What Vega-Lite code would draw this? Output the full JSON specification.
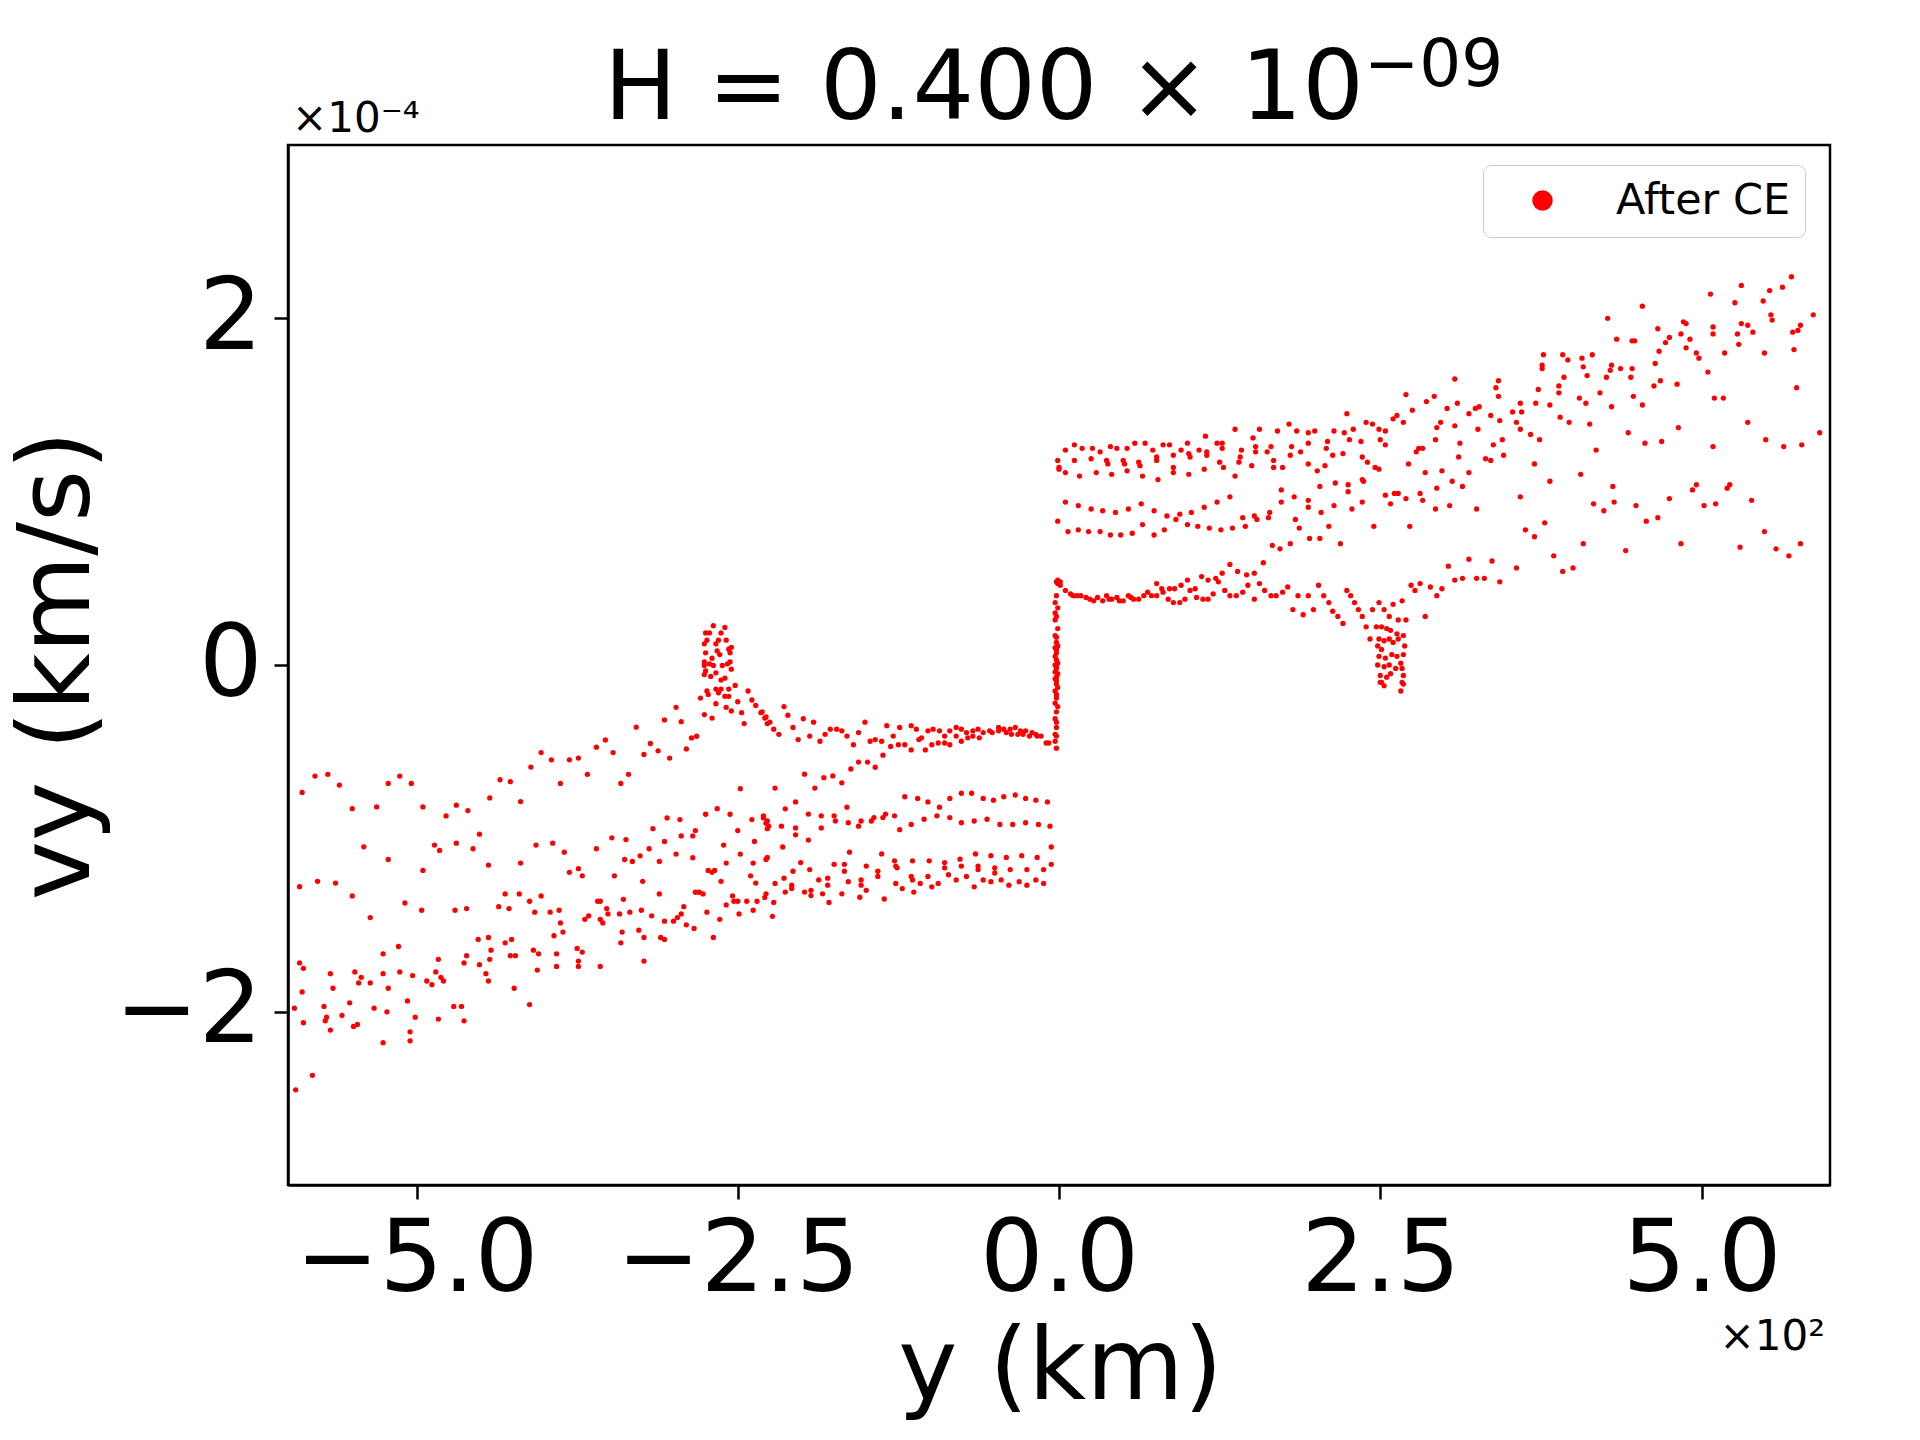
{
  "$schema": "https://vega.github.io/schema/vega-lite/v6.json",
  "autosize": {"type": "none"},
  "padding": {"left": 288, "top": 145, "right": 90, "bottom": 255},
  "width": 1542,
  "height": 1040,
  "background": "white",
  "config": {
    "view": {"stroke": "black", "strokeWidth": 2.5},
    "axis": {"domainColor": "black", "domainWidth": 2.5, "tickColor": "black", "tickWidth": 2.5, "tickSize": 14, "labelFont": "DejaVu Sans", "labelFontSize": 100, "labelColor": "black", "labelLimit": 0, "titleFont": "DejaVu Sans", "titleFontSize": 100, "titleColor": "black", "titleFontWeight": "normal", "titleLimit": 0, "grid": false, "labelOverlap": false, "labelFlush": false}
  },
  "datasets": {
    "pts": [
      {"y":-5.89,"vy":-0.735},{"y":-5.79,"vy":-0.641},{"y":-5.69,"vy":-0.631},{"y":-5.60,"vy":-0.693},{"y":-5.50,"vy":-0.829},{"y":-5.31,"vy":-0.819},{"y":-5.22,"vy":-0.683},{"y":-5.13,"vy":-0.641},{"y":-5.04,"vy":-0.683},{"y":-4.95,"vy":-0.819},{"y":-4.77,"vy":-0.871},{"y":-4.69,"vy":-0.809},{"y":-4.60,"vy":-0.840},{"y":-4.43,"vy":-0.767},{"y":-4.35,"vy":-0.662},{"y":-4.27,"vy":-0.673},{"y":-4.19,"vy":-0.788},{"y":-4.11,"vy":-0.589},{"y":-4.03,"vy":-0.505},{"y":-3.95,"vy":-0.547},{"y":-3.88,"vy":-0.683},{"y":-3.81,"vy":-0.547},{"y":-3.74,"vy":-0.537},{"y":-3.67,"vy":-0.631},{"y":-3.60,"vy":-0.474},{"y":-3.53,"vy":-0.432},{"y":-3.47,"vy":-0.505},{"y":-3.41,"vy":-0.683},{"y":-3.35,"vy":-0.631},{"y":-3.29,"vy":-0.359},{"y":-3.23,"vy":-0.516},{"y":-3.18,"vy":-0.453},{"y":-3.12,"vy":-0.495},{"y":-3.07,"vy":-0.317},{"y":-3.03,"vy":-0.537},{"y":-2.98,"vy":-0.244},{"y":-2.94,"vy":-0.327},{"y":-2.90,"vy":-0.484},{"y":-2.86,"vy":-0.421},{"y":-2.82,"vy":-0.411},{"y":-2.79,"vy":-0.191},{"y":-2.76,"vy":-0.286},{"y":-2.70,"vy":-0.306},{"y":-2.67,"vy":-0.223},{"y":-2.59,"vy":-0.244},{"y":-2.55,"vy":-0.265},{"y":-2.50,"vy":-0.212},{"y":-2.47,"vy":-0.275},{"y":-2.45,"vy":-0.338},{"y":-2.42,"vy":-0.150},{"y":-2.39,"vy":-0.202},{"y":-2.36,"vy":-0.233},{"y":-2.32,"vy":-0.275},{"y":-2.29,"vy":-0.306},{"y":-2.27,"vy":-0.338},
      {"y":-2.69,"vy":0.227},{"y":-2.60,"vy":0.217},{"y":-2.75,"vy":0.185},{"y":-2.72,"vy":0.185},{"y":-2.63,"vy":0.185},{"y":-2.67,"vy":0.122},{"y":-2.59,"vy":0.143},{"y":-2.76,"vy":0.122},{"y":-2.55,"vy":0.102},{"y":-2.66,"vy":0.081},{"y":-2.75,"vy":0.070},{"y":-2.64,"vy":0.060},{"y":-2.56,"vy":0.070},{"y":-2.70,"vy":0.039},{"y":-2.76,"vy":0.018},{"y":-2.56,"vy":0.018},{"y":-2.62,"vy":-0.003},{"y":-2.76,"vy":-0.003},{"y":-2.69,"vy":-0.003},{"y":-2.55,"vy":-0.024},{"y":-2.75,"vy":-0.034},{"y":-2.71,"vy":-0.066},{"y":-2.60,"vy":-0.076},{"y":-2.63,"vy":-0.087},{"y":-2.74,"vy":-0.150},{"y":-2.67,"vy":-0.139},{"y":-2.63,"vy":-0.139},{"y":-2.57,"vy":-0.139},{"y":-2.52,"vy":-0.118},{"y":-2.73,"vy":-0.170},{"y":-2.65,"vy":-0.160},{"y":-2.60,"vy":-0.181},{"y":-2.57,"vy":-0.181},{"y":-2.76,"vy":-0.055},{"y":-2.58,"vy":0.007},{"y":-2.67,"vy":-0.045},{"y":-2.72,"vy":0.007},{"y":-2.57,"vy":0.091},{"y":-2.65,"vy":0.143},{"y":-2.74,"vy":0.143},
      {"y":-5.41,"vy":-1.049},{"y":-5.22,"vy":-1.122},{"y":-4.95,"vy":-1.185},{"y":-4.86,"vy":-1.039},{"y":-4.82,"vy":-1.070},{"y":-4.69,"vy":-1.028},{"y":-4.56,"vy":-1.060},{"y":-4.51,"vy":-0.976},{"y":-4.44,"vy":-1.154},{"y":-4.19,"vy":-1.143},{"y":-4.07,"vy":-1.039},{"y":-3.94,"vy":-1.028},{"y":-3.85,"vy":-1.080},{"y":-3.81,"vy":-1.196},{"y":-3.74,"vy":-1.175},{"y":-3.71,"vy":-1.216},{"y":-3.60,"vy":-1.060},{"y":-3.48,"vy":-0.997},{"y":-3.46,"vy":-1.216},{"y":-3.38,"vy":-1.122},{"y":-3.37,"vy":-1.007},{"y":-3.32,"vy":-1.133},{"y":-3.26,"vy":-1.101},{"y":-3.19,"vy":-1.060},{"y":-3.16,"vy":-0.944},{"y":-3.11,"vy":-1.133},{"y":-3.07,"vy":-1.018},{"y":-3.05,"vy":-0.882},{"y":-2.98,"vy":-1.091},{"y":-2.95,"vy":-0.892},{"y":-2.94,"vy":-0.986},{"y":-2.85,"vy":-1.112},{"y":-2.85,"vy":-0.986},{"y":-2.83,"vy":-0.955},{"y":-2.75,"vy":-0.861},{"y":-2.73,"vy":-1.185},{"y":-2.70,"vy":-1.196},{"y":-2.68,"vy":-1.185},{"y":-2.66,"vy":-0.829},{"y":-2.63,"vy":-1.248},{"y":-2.61,"vy":-1.039},{"y":-2.59,"vy":-1.143},{"y":-2.56,"vy":-0.861},{"y":-2.50,"vy":-0.955},{"y":-2.48,"vy":-1.091},{"y":-2.48,"vy":-0.714},{"y":-2.40,"vy":-1.216},{"y":-2.39,"vy":-0.892},{"y":-2.38,"vy":-1.143},{"y":-2.37,"vy":-1.018},{"y":-2.36,"vy":-1.258},{"y":-2.30,"vy":-0.882},{"y":-2.28,"vy":-0.913},{"y":-2.27,"vy":-0.944},{"y":-2.28,"vy":-1.122},
      {"y":-5.91,"vy":-1.279},{"y":-5.77,"vy":-1.248},{"y":-5.63,"vy":-1.258},{"y":-5.50,"vy":-1.332},{"y":-5.36,"vy":-1.457},{"y":-5.09,"vy":-1.373},{"y":-4.96,"vy":-1.415},{"y":-4.70,"vy":-1.415},{"y":-4.61,"vy":-1.405},{"y":-4.36,"vy":-1.394},{"y":-4.31,"vy":-1.321},{"y":-4.28,"vy":-1.405},{"y":-4.20,"vy":-1.321},{"y":-4.12,"vy":-1.363},{"y":-4.08,"vy":-1.426},{"y":-4.03,"vy":-1.332},{"y":-3.96,"vy":-1.426},{"y":-3.89,"vy":-1.415},{"y":-3.88,"vy":-1.488},{"y":-3.86,"vy":-1.541},{"y":-3.93,"vy":-1.562},{"y":-3.69,"vy":-1.467},{"y":-3.66,"vy":-1.447},{"y":-3.59,"vy":-1.363},{"y":-3.57,"vy":-1.363},{"y":-3.57,"vy":-1.467},{"y":-3.55,"vy":-1.488},{"y":-3.52,"vy":-1.405},{"y":-3.51,"vy":-1.436},{"y":-3.42,"vy":-1.436},{"y":-3.39,"vy":-1.352},{"y":-3.34,"vy":-1.426},{"y":-3.40,"vy":-1.541},{"y":-3.41,"vy":-1.603},{"y":-3.27,"vy":-1.530},{"y":-3.25,"vy":-1.415},{"y":-3.23,"vy":-1.572},{"y":-3.24,"vy":-1.248},{"y":-3.17,"vy":-1.447},{"y":-3.11,"vy":-1.321},{"y":-3.10,"vy":-1.572},{"y":-3.07,"vy":-1.583},{"y":-3.07,"vy":-1.478},{"y":-3.00,"vy":-1.478},{"y":-2.97,"vy":-1.457},{"y":-2.94,"vy":-1.436},{"y":-2.92,"vy":-1.394},{"y":-2.90,"vy":-1.499},{"y":-2.84,"vy":-1.520},{"y":-2.83,"vy":-1.311},{"y":-2.80,"vy":-1.311},{"y":-2.77,"vy":-1.321},{"y":-2.74,"vy":-1.426},{"y":-2.69,"vy":-1.572},{"y":-2.64,"vy":-1.467},{"y":-2.59,"vy":-1.384},{"y":-2.54,"vy":-1.332},{"y":-2.53,"vy":-1.363},{"y":-2.50,"vy":-1.363},{"y":-2.49,"vy":-1.436},{"y":-2.43,"vy":-1.363},{"y":-2.38,"vy":-1.415},{"y":-2.35,"vy":-1.363},{"y":-2.29,"vy":-1.342},
      {"y":-5.91,"vy":-1.719},{"y":-5.88,"vy":-1.750},{"y":-5.89,"vy":-1.886},{"y":-5.95,"vy":-1.980},{"y":-5.88,"vy":-2.064},{"y":-5.72,"vy":-1.970},{"y":-5.70,"vy":-2.032},{"y":-5.71,"vy":-2.053},{"y":-5.67,"vy":-2.106},{"y":-5.67,"vy":-1.781},{"y":-5.65,"vy":-1.865},{"y":-5.58,"vy":-2.022},{"y":-5.52,"vy":-1.949},{"y":-5.49,"vy":-2.085},{"y":-5.46,"vy":-2.074},{"y":-5.48,"vy":-1.771},{"y":-5.43,"vy":-1.802},{"y":-5.45,"vy":-1.834},{"y":-5.36,"vy":-1.834},{"y":-5.33,"vy":-1.980},{"y":-5.26,"vy":-1.666},{"y":-5.26,"vy":-1.781},{"y":-5.23,"vy":-2.001},{"y":-5.22,"vy":-1.865},{"y":-5.26,"vy":-2.179},{"y":-5.14,"vy":-1.624},{"y":-5.13,"vy":-1.771},{"y":-5.07,"vy":-1.938},{"y":-5.05,"vy":-2.116},{"y":-5.05,"vy":-2.168},{"y":-5.03,"vy":-1.792},{"y":-5.01,"vy":-2.032},{"y":-4.92,"vy":-1.823},{"y":-4.88,"vy":-1.844},{"y":-4.85,"vy":-1.771},{"y":-4.83,"vy":-1.698},{"y":-4.81,"vy":-1.802},{"y":-4.79,"vy":-1.823},{"y":-4.83,"vy":-2.043},{"y":-4.71,"vy":-1.970},{"y":-4.65,"vy":-1.970},{"y":-4.63,"vy":-2.053},{"y":-4.63,"vy":-1.719},{"y":-4.61,"vy":-1.677},{"y":-4.52,"vy":-1.583},{"y":-4.51,"vy":-1.729},{"y":-4.44,"vy":-1.572},{"y":-4.42,"vy":-1.645},{"y":-4.43,"vy":-1.698},{"y":-4.46,"vy":-1.781},{"y":-4.44,"vy":-1.823},{"y":-4.31,"vy":-1.603},{"y":-4.26,"vy":-1.583},{"y":-4.27,"vy":-1.677},{"y":-4.23,"vy":-1.677},{"y":-4.24,"vy":-1.865},{"y":-4.12,"vy":-1.959},{"y":-4.09,"vy":-1.645},{"y":-4.05,"vy":-1.666},{"y":-4.06,"vy":-1.760},{"y":-3.91,"vy":-1.666},{"y":-3.91,"vy":-1.739},{"y":-3.75,"vy":-1.635},{"y":-3.71,"vy":-1.656},{"y":-3.74,"vy":-1.708},{"y":-3.74,"vy":-1.739},{"y":-3.57,"vy":-1.739},{"y":-3.23,"vy":-1.708},{"y":-5.81,"vy":-2.367},{"y":-5.94,"vy":-2.451},
      {"y":-2.31,"vy":-0.27},{"y":-2.28,"vy":-0.30},{"y":-2.25,"vy":-0.33},{"y":-2.22,"vy":-0.37},{"y":-2.18,"vy":-0.40},{"y":-2.14,"vy":-0.24},{"y":-2.11,"vy":-0.29},{"y":-2.07,"vy":-0.36},{"y":-2.03,"vy":-0.43},{"y":-1.99,"vy":-0.31},{"y":-1.94,"vy":-0.41},{"y":-1.91,"vy":-0.33},{"y":-1.86,"vy":-0.44},{"y":-1.82,"vy":-0.40},{"y":-1.78,"vy":-0.37},{"y":-1.73,"vy":-0.37},{"y":-1.69,"vy":-0.38},{"y":-1.65,"vy":-0.41},{"y":-1.60,"vy":-0.46},{"y":-1.56,"vy":-0.39},{"y":-1.51,"vy":-0.33},{"y":-1.47,"vy":-0.44},{"y":-1.43,"vy":-0.43},{"y":-1.38,"vy":-0.44},{"y":-1.37,"vy":-0.52},{"y":-1.34,"vy":-0.35},{"y":-1.31,"vy":-0.47},{"y":-1.29,"vy":-0.41},{"y":-1.25,"vy":-0.46},{"y":-1.24,"vy":-0.36},{"y":-1.20,"vy":-0.46},{"y":-1.15,"vy":-0.35},{"y":-1.15,"vy":-0.49},{"y":-1.11,"vy":-0.37},{"y":-1.09,"vy":-0.43},{"y":-1.07,"vy":-0.42},{"y":-1.04,"vy":-0.49},{"y":-1.02,"vy":-0.38},{"y":-0.99,"vy":-0.46},{"y":-0.98,"vy":-0.37},{"y":-0.93,"vy":-0.38},{"y":-0.94,"vy":-0.45},{"y":-0.89,"vy":-0.45},{"y":-0.89,"vy":-0.41},{"y":-0.85,"vy":-0.46},{"y":-0.85,"vy":-0.38},{"y":-0.80,"vy":-0.36},{"y":-0.80,"vy":-0.41},{"y":-0.76,"vy":-0.44},{"y":-0.76,"vy":-0.37},{"y":-0.72,"vy":-0.39},{"y":-0.71,"vy":-0.42},{"y":-0.67,"vy":-0.38},{"y":-0.67,"vy":-0.41},{"y":-0.63,"vy":-0.37},{"y":-0.62,"vy":-0.42},{"y":-0.59,"vy":-0.39},{"y":-0.54,"vy":-0.38},{"y":-0.52,"vy":-0.39},{"y":-0.47,"vy":-0.36},{"y":-0.47,"vy":-0.38},{"y":-0.43,"vy":-0.37},{"y":-0.41,"vy":-0.39},{"y":-0.38,"vy":-0.37},{"y":-0.37,"vy":-0.40},{"y":-0.34,"vy":-0.36},{"y":-0.32,"vy":-0.40},{"y":-0.30,"vy":-0.38},{"y":-0.28,"vy":-0.40},{"y":-0.26,"vy":-0.38},{"y":-0.23,"vy":-0.41},{"y":-0.21,"vy":-0.39},{"y":-0.18,"vy":-0.40},{"y":-0.17,"vy":-0.41},{"y":-0.14,"vy":-0.41},{"y":-0.10,"vy":-0.45},{"y":-0.08,"vy":-0.45},
      {"y":-2.21,"vy":-0.71},{"y":-1.98,"vy":-0.63},{"y":-1.90,"vy":-0.71},{"y":-1.83,"vy":-0.65},{"y":-1.76,"vy":-0.64},{"y":-1.69,"vy":-0.68},{"y":-1.62,"vy":-0.60},{"y":-1.56,"vy":-0.56},{"y":-1.49,"vy":-0.56},{"y":-1.43,"vy":-0.59},
      {"y":-2.13,"vy":-0.83},{"y":-2.05,"vy":-0.79},{"y":-2.30,"vy":-0.87},{"y":-2.27,"vy":-0.90},{"y":-2.26,"vy":-0.93},{"y":-2.16,"vy":-0.93},{"y":-2.05,"vy":-0.94},{"y":-2.05,"vy":-0.98},{"y":-1.95,"vy":-0.86},{"y":-1.95,"vy":-1.01},{"y":-1.85,"vy":-0.87},{"y":-1.85,"vy":-0.94},{"y":-1.75,"vy":-0.87},{"y":-1.74,"vy":-0.90},{"y":-1.65,"vy":-0.82},{"y":-1.64,"vy":-0.91},{"y":-1.56,"vy":-0.93},{"y":-1.54,"vy":-0.90},{"y":-1.46,"vy":-0.90},{"y":-1.44,"vy":-0.88},{"y":-1.37,"vy":-0.88},{"y":-1.35,"vy":-0.86},{"y":-1.28,"vy":-0.87},{"y":-1.24,"vy":-0.95},{"y":-1.20,"vy":-0.76},{"y":-1.15,"vy":-0.92},{"y":-1.10,"vy":-0.77},{"y":-1.05,"vy":-0.89},{"y":-1.02,"vy":-0.79},{"y":-0.95,"vy":-0.87},{"y":-0.93,"vy":-0.82},{"y":-0.85,"vy":-0.88},{"y":-0.85,"vy":-0.77},{"y":-0.76,"vy":-0.74},{"y":-0.76,"vy":-0.91},{"y":-0.68,"vy":-0.74},{"y":-0.66,"vy":-0.90},{"y":-0.59,"vy":-0.77},{"y":-0.56,"vy":-0.89},{"y":-0.51,"vy":-0.78},{"y":-0.46,"vy":-0.92},{"y":-0.43,"vy":-0.76},{"y":-0.36,"vy":-0.92},{"y":-0.34,"vy":-0.75},{"y":-0.26,"vy":-0.77},{"y":-0.26,"vy":-0.91},{"y":-0.18,"vy":-0.78},{"y":-0.16,"vy":-0.92},{"y":-0.09,"vy":-0.79},{"y":-0.07,"vy":-0.93},{"y":-0.06,"vy":-1.05},
      {"y":-2.15,"vy":-1.05},{"y":-2.27,"vy":-1.11},{"y":-2.01,"vy":-1.14},{"y":-1.94,"vy":-1.18},{"y":-2.07,"vy":-1.19},{"y":-2.14,"vy":-1.23},{"y":-2.21,"vy":-1.26},{"y":-2.08,"vy":-1.27},{"y":-2.08,"vy":-1.29},{"y":-2.28,"vy":-1.32},{"y":-2.13,"vy":-1.31},{"y":-2.22,"vy":-1.37},{"y":-2.23,"vy":-1.45},{"y":-1.98,"vy":-1.31},{"y":-1.93,"vy":-1.30},{"y":-1.93,"vy":-1.33},{"y":-1.84,"vy":-1.32},{"y":-1.87,"vy":-1.24},{"y":-1.80,"vy":-1.23},{"y":-1.80,"vy":-1.27},{"y":-1.79,"vy":-1.37},{"y":-1.75,"vy":-1.15},{"y":-1.69,"vy":-1.32},{"y":-1.67,"vy":-1.15},{"y":-1.67,"vy":-1.19},{"y":-1.64,"vy":-1.25},{"y":-1.63,"vy":-1.08},{"y":-1.55,"vy":-1.34},{"y":-1.54,"vy":-1.24},{"y":-1.54,"vy":-1.27},{"y":-1.50,"vy":-1.30},{"y":-1.50,"vy":-1.16},{"y":-1.41,"vy":-1.22},{"y":-1.41,"vy":-1.19},{"y":-1.38,"vy":-1.09},{"y":-1.36,"vy":-1.35},{"y":-1.28,"vy":-1.13},{"y":-1.27,"vy":-1.16},{"y":-1.26,"vy":-1.17},{"y":-1.27,"vy":-1.26},{"y":-1.22,"vy":-1.29},{"y":-1.15,"vy":-1.22},{"y":-1.14,"vy":-1.24},{"y":-1.14,"vy":-1.13},{"y":-1.13,"vy":-1.31},{"y":-1.08,"vy":-1.26},{"y":-1.02,"vy":-1.22},{"y":-1.01,"vy":-1.13},{"y":-0.99,"vy":-1.28},{"y":-0.94,"vy":-1.26},{"y":-0.89,"vy":-1.14},{"y":-0.89,"vy":-1.17},{"y":-0.86,"vy":-1.21},{"y":-0.80,"vy":-1.24},{"y":-0.77,"vy":-1.12},{"y":-0.76,"vy":-1.16},{"y":-0.72,"vy":-1.22},{"y":-0.66,"vy":-1.28},{"y":-0.65,"vy":-1.09},{"y":-0.63,"vy":-1.16},{"y":-0.63,"vy":-1.18},{"y":-0.59,"vy":-1.24},{"y":-0.53,"vy":-1.10},{"y":-0.53,"vy":-1.25},{"y":-0.50,"vy":-1.17},{"y":-0.50,"vy":-1.20},{"y":-0.45,"vy":-1.24},{"y":-0.41,"vy":-1.11},{"y":-0.39,"vy":-1.27},{"y":-0.38,"vy":-1.18},{"y":-0.31,"vy":-1.25},{"y":-0.29,"vy":-1.10},{"y":-0.25,"vy":-1.18},{"y":-0.25,"vy":-1.27},{"y":-0.18,"vy":-1.24},{"y":-0.17,"vy":-1.11},{"y":-0.12,"vy":-1.18},{"y":-0.12,"vy":-1.26},{"y":-0.06,"vy":-1.15},
      {"y":-0.03,"vy":0.36},{"y":-0.03,"vy":0.30},{"y":-0.03,"vy":0.26},{"y":-0.03,"vy":0.17},{"y":-0.02,"vy":0.16},{"y":-0.03,"vy":0.10},{"y":-0.02,"vy":0.09},{"y":-0.03,"vy":0.05},{"y":-0.02,"vy":0.03},{"y":-0.03,"vy":0.00},{"y":-0.02,"vy":-0.02},{"y":-0.03,"vy":-0.04},{"y":-0.02,"vy":-0.07},{"y":-0.03,"vy":-0.08},{"y":-0.02,"vy":-0.11},{"y":-0.03,"vy":-0.15},{"y":-0.02,"vy":-0.19},{"y":-0.03,"vy":-0.22},{"y":-0.02,"vy":-0.27},{"y":-0.03,"vy":-0.31},{"y":-0.02,"vy":-0.33},{"y":-0.03,"vy":-0.40},{"y":-0.02,"vy":-0.41},{"y":-0.03,"vy":-0.44},{"y":-0.02,"vy":-0.48},
      {"y":-0.02,"vy":0.48},{"y":-0.01,"vy":0.47},{"y":-0.02,"vy":0.40},{"y":-0.01,"vy":0.33},{"y":-0.02,"vy":0.28},{"y":-0.01,"vy":0.21},{"y":-0.02,"vy":0.13},{"y":-0.01,"vy":0.11},{"y":-0.02,"vy":0.07},{"y":-0.01,"vy":0.01},{"y":-0.02,"vy":-0.01},{"y":-0.01,"vy":-0.05},{"y":-0.02,"vy":-0.09},{"y":-0.01,"vy":-0.13},{"y":-0.02,"vy":-0.17},{"y":-0.01,"vy":-0.24},{"y":-0.02,"vy":-0.36},
      {"y":-0.01,"vy":0.49},{"y":0.01,"vy":0.48},{"y":0.01,"vy":0.46},{"y":0.05,"vy":0.43},{"y":0.09,"vy":0.41},{"y":0.11,"vy":0.40},{"y":0.14,"vy":0.40},{"y":0.17,"vy":0.40},{"y":0.21,"vy":0.39},{"y":0.24,"vy":0.38},{"y":0.27,"vy":0.37},{"y":0.30,"vy":0.39},{"y":0.34,"vy":0.37},{"y":0.37,"vy":0.40},{"y":0.39,"vy":0.38},{"y":0.41,"vy":0.38},{"y":0.45,"vy":0.39},{"y":0.47,"vy":0.37},{"y":0.50,"vy":0.37},{"y":0.54,"vy":0.40},{"y":0.56,"vy":0.39},{"y":0.58,"vy":0.38},{"y":0.62,"vy":0.38},{"y":0.66,"vy":0.40},{"y":0.69,"vy":0.42},{"y":0.72,"vy":0.40},{"y":0.76,"vy":0.47},{"y":0.76,"vy":0.40},{"y":0.80,"vy":0.44},{"y":0.81,"vy":0.42},{"y":0.85,"vy":0.38},{"y":0.86,"vy":0.44},{"y":0.89,"vy":0.36},{"y":0.90,"vy":0.44},{"y":0.94,"vy":0.36},{"y":0.95,"vy":0.46},{"y":0.98,"vy":0.38},{"y":1.00,"vy":0.49},{"y":1.02,"vy":0.43},{"y":1.06,"vy":0.44},{"y":1.07,"vy":0.39},{"y":1.11,"vy":0.51},{"y":1.12,"vy":0.38},{"y":1.16,"vy":0.38},{"y":1.16,"vy":0.49},{"y":1.20,"vy":0.41},{"y":1.22,"vy":0.50},{"y":1.24,"vy":0.48},{"y":1.27,"vy":0.53},{"y":1.29,"vy":0.43},{"y":1.33,"vy":0.58},{"y":1.33,"vy":0.40},{"y":1.38,"vy":0.40},{"y":1.39,"vy":0.54},{"y":1.43,"vy":0.42},{"y":1.46,"vy":0.52},{"y":1.47,"vy":0.46},{"y":1.52,"vy":0.38},{"y":1.52,"vy":0.53},{"y":1.56,"vy":0.47},{"y":1.59,"vy":0.59},{"y":1.60,"vy":0.43},{"y":1.65,"vy":0.40},{"y":1.69,"vy":0.40},{"y":1.74,"vy":0.42},{"y":1.78,"vy":0.45},{"y":1.82,"vy":0.32},{"y":1.86,"vy":0.40},{"y":1.90,"vy":0.29},{"y":1.94,"vy":0.40},{"y":1.98,"vy":0.32},{"y":2.02,"vy":0.46},{"y":2.06,"vy":0.40},{"y":2.10,"vy":0.36},{"y":2.13,"vy":0.31},{"y":2.17,"vy":0.28},{"y":2.21,"vy":0.24},{"y":2.24,"vy":0.43},{"y":2.27,"vy":0.40},{"y":2.30,"vy":0.36},{"y":2.33,"vy":0.32},{"y":2.36,"vy":0.28},{"y":2.39,"vy":0.22},{"y":2.42,"vy":0.15},{"y":2.44,"vy":0.32},{"y":2.49,"vy":0.36},{"y":2.53,"vy":0.32},{"y":2.57,"vy":0.28},{"y":2.60,"vy":0.35},{"y":2.64,"vy":0.26},{"y":2.67,"vy":0.37},{"y":2.70,"vy":0.26},{"y":2.74,"vy":0.46},{"y":2.77,"vy":0.43},{"y":2.81,"vy":0.47},{"y":2.85,"vy":0.28},{"y":2.89,"vy":0.45},{"y":2.94,"vy":0.40},{"y":2.98,"vy":0.44},{"y":3.03,"vy":0.57},{"y":3.08,"vy":0.49},{"y":3.14,"vy":0.50},{"y":3.19,"vy":0.61},{"y":3.25,"vy":0.50},{"y":3.31,"vy":0.50},{"y":3.37,"vy":0.60},{"y":3.43,"vy":0.48},
      {"y":2.47,"vy":0.22},{"y":2.51,"vy":0.22},{"y":2.55,"vy":0.21},{"y":2.58,"vy":0.20},{"y":2.63,"vy":0.18},{"y":2.68,"vy":0.17},{"y":2.49,"vy":0.15},{"y":2.53,"vy":0.14},{"y":2.57,"vy":0.15},{"y":2.60,"vy":0.13},{"y":2.64,"vy":0.15},{"y":2.69,"vy":0.11},{"y":2.48,"vy":0.11},{"y":2.51,"vy":0.09},{"y":2.49,"vy":0.05},{"y":2.54,"vy":0.04},{"y":2.59,"vy":0.06},{"y":2.63,"vy":0.05},{"y":2.68,"vy":0.06},{"y":2.66,"vy":0.01},{"y":2.48,"vy":0.00},{"y":2.53,"vy":-0.01},{"y":2.57,"vy":0.00},{"y":2.62,"vy":-0.02},{"y":2.67,"vy":-0.02},{"y":2.68,"vy":-0.06},{"y":2.50,"vy":-0.06},{"y":2.55,"vy":-0.07},{"y":2.58,"vy":-0.05},{"y":2.51,"vy":-0.10},{"y":2.50,"vy":-0.10},{"y":2.53,"vy":-0.12},{"y":2.67,"vy":-0.10},{"y":2.68,"vy":-0.11},{"y":2.66,"vy":-0.15},
      {"y":-0.01,"vy":1.18},{"y":0.00,"vy":1.14},{"y":0.00,"vy":1.13},{"y":0.05,"vy":1.24},{"y":0.05,"vy":1.11},{"y":0.12,"vy":1.27},{"y":0.12,"vy":1.18},{"y":0.16,"vy":1.09},{"y":0.18,"vy":1.25},{"y":0.25,"vy":1.19},{"y":0.26,"vy":1.25},{"y":0.29,"vy":1.11},{"y":0.32,"vy":1.23},{"y":0.37,"vy":1.18},{"y":0.38,"vy":1.16},{"y":0.40,"vy":1.26},{"y":0.41,"vy":1.10},{"y":0.45,"vy":1.25},{"y":0.50,"vy":1.18},{"y":0.51,"vy":1.16},{"y":0.53,"vy":1.12},{"y":0.53,"vy":1.25},{"y":0.59,"vy":1.28},{"y":0.62,"vy":1.17},{"y":0.63,"vy":1.15},{"y":0.65,"vy":1.09},{"y":0.67,"vy":1.28},{"y":0.73,"vy":1.24},{"y":0.76,"vy":1.20},{"y":0.76,"vy":1.18},{"y":0.77,"vy":1.07},{"y":0.81,"vy":1.27},{"y":0.86,"vy":1.27},{"y":0.89,"vy":1.21},{"y":0.89,"vy":1.14},{"y":0.89,"vy":1.11},{"y":0.95,"vy":1.24},{"y":1.00,"vy":1.28},{"y":1.01,"vy":1.10},{"y":1.01,"vy":1.22},{"y":1.02,"vy":1.20},{"y":1.09,"vy":1.24},{"y":1.13,"vy":1.13},{"y":1.14,"vy":1.32},{"y":1.15,"vy":1.23},{"y":1.15,"vy":1.21},{"y":1.23,"vy":1.28},{"y":1.25,"vy":1.17},{"y":1.27,"vy":1.28},{"y":1.27,"vy":1.25},{"y":1.28,"vy":1.14},{"y":1.37,"vy":1.36},{"y":1.37,"vy":1.09},{"y":1.40,"vy":1.17},{"y":1.41,"vy":1.20},{"y":1.42,"vy":1.24},{"y":1.50,"vy":1.15},{"y":1.51,"vy":1.31},{"y":1.53,"vy":1.26},{"y":1.53,"vy":1.23},{"y":1.56,"vy":1.36},{"y":1.62,"vy":1.23},{"y":1.65,"vy":1.26},{"y":1.67,"vy":1.18},{"y":1.67,"vy":1.14},{"y":1.70,"vy":1.35},{"y":1.74,"vy":1.14},{"y":1.79,"vy":1.39},{"y":1.81,"vy":1.26},{"y":1.80,"vy":1.21},{"y":1.85,"vy":1.35},{"y":1.88,"vy":1.23},{"y":1.94,"vy":1.34},{"y":1.94,"vy":1.28},{"y":1.94,"vy":1.16},{"y":1.99,"vy":1.35},{"y":2.01,"vy":1.12},{"y":2.03,"vy":1.03},{"y":2.08,"vy":1.25},{"y":2.09,"vy":1.29},{"y":2.07,"vy":1.15},{"y":2.14,"vy":1.35},{"y":2.13,"vy":1.21},{"y":2.15,"vy":1.05},{"y":2.21,"vy":1.22},{"y":2.22,"vy":1.34},{"y":2.24,"vy":1.45},{"y":2.25,"vy":1.04},{"y":2.25,"vy":1.00},{"y":2.26,"vy":1.30},{"y":2.29,"vy":1.36},{"y":2.35,"vy":1.29},{"y":2.36,"vy":1.20},{"y":2.36,"vy":1.07},{"y":2.37,"vy":1.06},{"y":2.39,"vy":1.40},{"y":2.40,"vy":1.17},{"y":2.44,"vy":1.39},{"y":2.46,"vy":1.14},{"y":2.49,"vy":1.13},{"y":2.49,"vy":1.36},{"y":2.50,"vy":1.30},{"y":2.54,"vy":1.35},{"y":2.54,"vy":1.27},{"y":2.60,"vy":1.42},{"y":2.63,"vy":1.44},{"y":2.68,"vy":1.40},{"y":2.70,"vy":1.56},{"y":2.72,"vy":1.16},{"y":2.75,"vy":1.47},{"y":2.78,"vy":1.23},{"y":2.80,"vy":1.25},{"y":2.83,"vy":1.25},{"y":2.85,"vy":1.11},{"y":2.86,"vy":1.52},{"y":2.92,"vy":1.55},{"y":2.93,"vy":1.30},{"y":2.94,"vy":1.37},{"y":2.97,"vy":1.40},{"y":2.98,"vy":1.12},{"y":3.02,"vy":1.48},{"y":3.08,"vy":1.38},{"y":3.10,"vy":1.51},{"y":3.11,"vy":1.20},{"y":3.12,"vy":1.28},{"y":3.19,"vy":1.45},{"y":3.19,"vy":1.11},{"y":3.24,"vy":1.48},{"y":3.26,"vy":1.36},{"y":3.27,"vy":1.49},{"y":3.32,"vy":1.19},{"y":3.36,"vy":1.18},{"y":3.36,"vy":1.44},{"y":3.38,"vy":1.27},{"y":3.43,"vy":1.41},{"y":3.42,"vy":1.55},{"y":3.40,"vy":1.60},{"y":3.45,"vy":1.30},{"y":3.46,"vy":1.21},{"y":3.08,"vy":1.65},{"y":3.42,"vy":1.64},
      {"y":-0.01,"vy":0.83},{"y":0.05,"vy":0.94},{"y":0.07,"vy":0.77},{"y":0.15,"vy":0.92},{"y":0.15,"vy":0.78},{"y":0.23,"vy":0.77},{"y":0.25,"vy":0.90},{"y":0.32,"vy":0.77},{"y":0.34,"vy":0.89},{"y":0.40,"vy":0.75},{"y":0.44,"vy":0.88},{"y":0.48,"vy":0.75},{"y":0.54,"vy":0.90},{"y":0.57,"vy":0.76},{"y":0.64,"vy":0.93},{"y":0.65,"vy":0.81},{"y":0.74,"vy":0.89},{"y":0.74,"vy":0.75},{"y":0.82,"vy":0.78},{"y":0.84,"vy":0.86},{"y":0.91,"vy":0.84},{"y":0.94,"vy":0.87},{"y":1.00,"vy":0.81},{"y":1.03,"vy":0.88},{"y":1.08,"vy":0.80},{"y":1.13,"vy":0.91},{"y":1.17,"vy":0.79},{"y":1.23,"vy":0.94},{"y":1.26,"vy":0.78},{"y":1.33,"vy":0.97},{"y":1.35,"vy":0.79},{"y":1.43,"vy":0.85},{"y":1.45,"vy":0.80},{"y":1.52,"vy":0.86},{"y":1.54,"vy":0.84},{"y":1.63,"vy":0.85},{"y":1.64,"vy":0.88},{"y":1.66,"vy":0.69},{"y":1.72,"vy":0.67},{"y":1.73,"vy":1.01},{"y":1.73,"vy":0.94},{"y":1.80,"vy":0.70},{"y":1.83,"vy":0.97},{"y":1.84,"vy":0.84},{"y":1.87,"vy":0.79},{"y":1.94,"vy":0.95},{"y":1.94,"vy":0.91},{"y":1.95,"vy":0.73},{"y":2.03,"vy":0.73},{"y":2.04,"vy":0.88},{"y":2.10,"vy":0.80},{"y":2.14,"vy":0.92},{"y":2.19,"vy":0.70},{"y":2.28,"vy":0.90},{"y":2.36,"vy":0.94},{"y":2.45,"vy":0.80},{"y":2.54,"vy":0.98},{"y":2.58,"vy":0.93},{"y":2.61,"vy":0.99},{"y":2.64,"vy":0.99},{"y":2.70,"vy":0.96},{"y":2.73,"vy":0.80},{"y":2.81,"vy":0.99},{"y":2.83,"vy":0.95},{"y":2.94,"vy":1.02},{"y":2.93,"vy":0.90},{"y":3.04,"vy":0.92},{"y":3.06,"vy":1.06},{"y":3.14,"vy":1.03},{"y":3.25,"vy":0.90},
      {"y":3.59,"vy":1.51},{"y":3.60,"vy":1.46},{"y":3.56,"vy":1.40},{"y":3.59,"vy":1.36},{"y":3.53,"vy":1.46},{"y":3.67,"vy":1.33},{"y":3.74,"vy":1.30},{"y":3.70,"vy":1.16},{"y":3.71,"vy":1.51},{"y":3.73,"vy":1.59},{"y":3.76,"vy":1.73},{"y":3.76,"vy":1.71},{"y":3.77,"vy":1.79},{"y":3.82,"vy":1.50},{"y":3.82,"vy":1.06},{"y":3.59,"vy":0.97},{"y":3.63,"vy":0.78},{"y":3.70,"vy":0.74},{"y":3.78,"vy":0.82},{"y":3.56,"vy":0.56},{"y":3.85,"vy":0.63},{"y":3.92,"vy":0.54},{"y":4.00,"vy":0.56},{"y":4.08,"vy":0.70},{"y":3.90,"vy":1.43},{"y":3.97,"vy":1.40},{"y":3.89,"vy":1.61},{"y":3.89,"vy":1.57},{"y":3.93,"vy":1.66},{"y":3.92,"vy":1.79},{"y":3.96,"vy":1.76},{"y":4.05,"vy":1.54},{"y":4.06,"vy":1.10},{"y":4.07,"vy":1.77},{"y":4.08,"vy":1.72},{"y":4.10,"vy":1.51},{"y":4.11,"vy":1.67},{"y":4.13,"vy":1.39},{"y":4.15,"vy":1.79},{"y":4.18,"vy":1.24},{"y":4.21,"vy":1.57},{"y":4.16,"vy":0.93},{"y":4.24,"vy":0.89},{"y":4.27,"vy":2.00},{"y":4.26,"vy":1.66},{"y":4.29,"vy":1.70},{"y":4.30,"vy":1.73},{"y":4.30,"vy":1.49},{"y":4.31,"vy":1.03},{"y":4.32,"vy":0.94},{"y":4.34,"vy":1.88},{"y":4.37,"vy":1.71},{"y":4.41,"vy":0.66},{"y":4.43,"vy":1.34},{"y":4.45,"vy":1.66},{"y":4.46,"vy":1.71},{"y":4.46,"vy":1.87},{"y":4.48,"vy":1.87},{"y":4.47,"vy":1.55},{"y":4.49,"vy":0.92},{"y":4.54,"vy":2.07},{"y":4.54,"vy":1.50},{"y":4.56,"vy":1.28},{"y":4.57,"vy":0.83},{"y":4.63,"vy":1.61},{"y":4.64,"vy":1.74},{"y":4.66,"vy":0.85},{"y":4.66,"vy":1.94},{"y":4.67,"vy":1.81},{"y":4.68,"vy":1.64},{"y":4.69,"vy":1.29},{"y":4.72,"vy":1.86},{"y":4.75,"vy":1.89},{"y":4.75,"vy":0.96},{"y":4.81,"vy":1.62},{"y":4.82,"vy":1.37},{"y":4.84,"vy":0.70},{"y":4.84,"vy":1.91},{"y":4.86,"vy":1.98},{"y":4.88,"vy":1.83},{"y":4.88,"vy":1.97},{"y":4.91,"vy":1.88},{"y":4.93,"vy":1.01},{"y":4.96,"vy":1.04},{"y":4.96,"vy":1.80},{"y":4.98,"vy":1.77},{"y":5.02,"vy":0.92},{"y":5.05,"vy":1.69},{"y":5.07,"vy":2.14},{"y":5.09,"vy":1.95},{"y":5.09,"vy":1.91},{"y":5.09,"vy":1.26},{"y":5.10,"vy":1.54},{"y":5.11,"vy":0.93},{"y":5.17,"vy":1.54},{"y":5.18,"vy":1.80},{"y":5.20,"vy":1.02},{"y":5.22,"vy":1.04},{"y":5.26,"vy":2.09},{"y":5.28,"vy":1.91},{"y":5.29,"vy":1.85},{"y":5.30,"vy":0.68},{"y":5.31,"vy":1.97},{"y":5.31,"vy":2.19},{"y":5.36,"vy":1.96},{"y":5.36,"vy":1.40},{"y":5.39,"vy":0.95},{"y":5.40,"vy":1.92},{"y":5.48,"vy":2.10},{"y":5.49,"vy":0.77},{"y":5.49,"vy":1.80},{"y":5.50,"vy":1.30},{"y":5.53,"vy":2.16},{"y":5.54,"vy":2.02},{"y":5.55,"vy":1.99},{"y":5.58,"vy":0.67},{"y":5.63,"vy":2.18},{"y":5.64,"vy":1.26},{"y":5.68,"vy":0.63},{"y":5.70,"vy":2.24},{"y":5.71,"vy":1.92},{"y":5.72,"vy":1.82},{"y":5.74,"vy":1.60},{"y":5.75,"vy":1.93},{"y":5.77,"vy":1.96},{"y":5.77,"vy":0.70},{"y":5.78,"vy":1.27},{"y":5.87,"vy":2.02},{"y":5.92,"vy":1.34}
    ]
  },
  "layer": [
    {
      "data": {"name": "pts"},
      "mark": {"type": "point", "filled": true, "size": 28, "opacity": 1, "strokeWidth": 0},
      "encoding": {
        "x": {"field": "y", "type": "quantitative", "scale": {"domain": [-6, 6], "nice": false, "zero": false},
          "axis": {"values": [-5, -2.5, 0, 2.5, 5], "format": ".1f", "labelPadding": 12, "title": "y (km)", "titleX": 772, "titleY": 213, "titleAlign": "center", "titleBaseline": "alphabetic"}},
        "y": {"field": "vy", "type": "quantitative", "scale": {"domain": [-3, 3], "nice": false, "zero": false},
          "axis": {"values": [-2, 0, 2], "format": "d", "labelPadding": 12, "title": "vy (km/s)", "titleAngle": -90, "titleX": -200, "titleY": 520, "titleAlign": "center", "titleBaseline": "alphabetic"}},
        "color": {"datum": "After CE", "type": "nominal", "scale": {"range": ["#ff0000"]},
          "legend": {"orient": "none", "legendX": 1195, "legendY": 20, "title": null, "labelFontSize": 43, "labelFont": "DejaVu Sans", "labelColor": "black", "labelLimit": 0, "symbolSize": 420, "symbolType": "circle", "symbolStrokeWidth": 0, "padding": 14, "strokeColor": "#cccccc", "cornerRadius": 8, "fillColor": "white", "labelOffset": 52, "symbolOffset": 24}}
      }
    },
    {
      "data": {"values": [{}]},
      "mark": {"type": "text", "text": "H = 0.400 × 10", "align": "left", "baseline": "alphabetic", "fontSize": 97, "font": "DejaVu Sans", "color": "black", "dx": -455, "dy": -26},
      "encoding": {"x": {"datum": 0, "type": "quantitative"}, "y": {"datum": 3, "type": "quantitative"}}
    },
    {
      "data": {"values": [{}]},
      "mark": {"type": "text", "text": "−09", "align": "left", "baseline": "alphabetic", "fontSize": 66, "font": "DejaVu Sans", "color": "black", "dx": 305, "dy": -59},
      "encoding": {"x": {"datum": 0, "type": "quantitative"}, "y": {"datum": 3, "type": "quantitative"}}
    },
    {
      "data": {"values": [{}]},
      "mark": {"type": "text", "text": "×10⁻⁴", "align": "left", "baseline": "alphabetic", "fontSize": 42, "font": "DejaVu Sans", "color": "black", "dx": 4, "dy": -13},
      "encoding": {"x": {"datum": -6, "type": "quantitative"}, "y": {"datum": 3, "type": "quantitative"}}
    },
    {
      "data": {"values": [{}]},
      "mark": {"type": "text", "text": "×10²", "align": "right", "baseline": "alphabetic", "fontSize": 42, "font": "DejaVu Sans", "color": "black", "dx": -5, "dy": 165},
      "encoding": {"x": {"datum": 6, "type": "quantitative"}, "y": {"datum": -3, "type": "quantitative"}}
    }
  ]
}
